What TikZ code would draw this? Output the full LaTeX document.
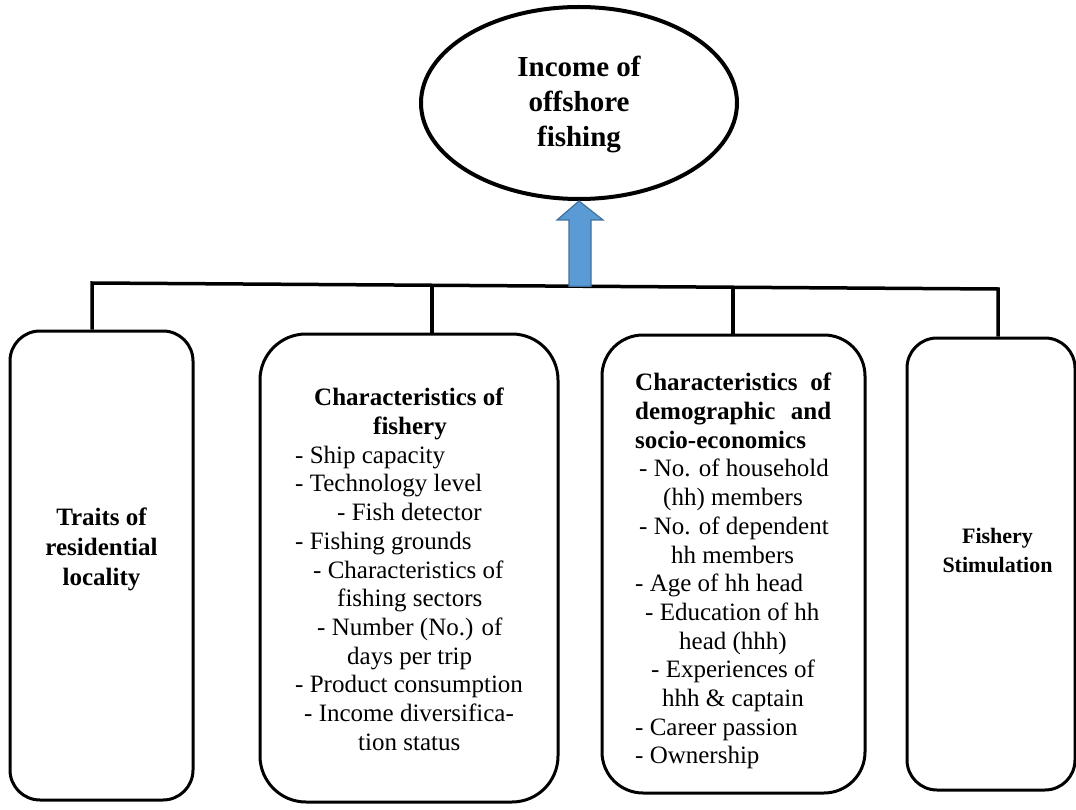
\documentclass[tikz,border=0pt]{standalone}
\usepackage{fontspec}
\setmainfont{Liberation Serif}
\usetikzlibrary{shapes.geometric}
\definecolor{arrowfill}{HTML}{5B9BD5}
\definecolor{arrowdraw}{HTML}{41719C}
\begin{document}
\begin{tikzpicture}[x=1pt,y=-1pt,
  boxstyle/.style={draw, line width=3pt, inner sep=0pt, rounded corners=#1},
  conn/.style={line width=3.5pt},
  listtext/.style={inner sep=0pt, align=left, font=\fontsize{25}{28.7}\selectfont},
  headtext/.style={inner sep=0pt, align=center, font=\bfseries\fontsize{25}{30}\selectfont},
  bigarrow/.style={draw=arrowdraw, fill=arrowfill, line width=1.2pt, line join=miter}
]
\useasboundingbox (0,0) rectangle (1076,810);

% goal ellipse
\node[draw, ellipse, line width=4pt, minimum width=316pt, minimum height=192pt, inner sep=0pt,
      align=center, font=\bfseries\fontsize{29}{35}\selectfont] (goal) at (579,103)
      {\rule{0pt}{24pt}Income of\\offshore\\fishing};

% boxes
\node[boxstyle=30pt, minimum width=183pt, minimum height=469pt] (b1) at (101.5,565.5) {};
\node[boxstyle=46pt, minimum width=298pt, minimum height=468pt] (b2) at (409,568) {};
\node[boxstyle=41pt, minimum width=263pt, minimum height=458pt] (b3) at (733.5,564) {};
\node[boxstyle=30pt, minimum width=168pt, minimum height=452pt] (b4) at (991,564) {};

% box texts
\node[headtext] (t1) at (101.5,549) {Traits of\\residential\\locality};

\node[listtext, anchor=north west] (t2) at (295,388) {%
\hspace*{19pt}\textbf{Characteristics of}\\
\hspace*{78pt}\textbf{fishery}\\
- Ship capacity\\
- Technology level\\
\hspace*{42pt}- Fish detector\\
- Fishing grounds\\
\hspace*{18pt}- Characteristics of\\
\hspace*{42pt}fishing sectors\\
\hspace*{22pt}- Number (No.) of\\
\hspace*{52pt}days per trip\\
- Product consumption\\
\hspace*{9pt}- Income diversifica-\\
\hspace*{63pt}tion status};

\node[listtext, anchor=north west] (t3) at (635,373) {%
\makebox[196pt][s]{\bfseries Characteristics of}\\
\makebox[196pt][s]{\bfseries demographic and}\\
\textbf{socio-economics}\\
\hspace*{4pt}- No. of household\\
\hspace*{28pt}(hh) members\\
\hspace*{4pt}- No. of dependent\\
\hspace*{36pt}hh members\\
- Age of hh head\\
\hspace*{10pt}- Education of hh\\
\hspace*{44pt}head (hhh)\\
\hspace*{16pt}- Experiences of\\
\hspace*{27pt}hhh \& captain\\
- Career passion\\
- Ownership};

\node[inner sep=0pt, align=center, font=\bfseries\fontsize{22}{29}\selectfont] (t4) at (997.5,550)
  {Fishery\\Stimulation};

% bus and drops
\coordinate (busL) at (92,283);
\coordinate (j2) at (432,285.3);
\coordinate (ja) at (580,286.3);
\coordinate (j3) at (733,287.3);
\coordinate (busR) at (998,289);
\draw[conn, line join=miter] (busL |- b1.north) -- (busL) -- (busR) -- (busR |- b4.north);
\draw[conn] (j2) -- (j2 |- b2.north);
\draw[conn] (j3) -- (j3 |- b3.north);

% block arrow up to goal
\draw[bigarrow] ([xshift=-11pt]ja) -- ([xshift=-11pt]ja |- 0,220) -- ([xshift=-23pt]ja |- 0,220)
  -- (goal.south) -- ([xshift=23pt]ja |- 0,220) -- ([xshift=11pt]ja |- 0,220) -- ([xshift=11pt]ja) -- cycle;
\end{tikzpicture}
\end{document}
